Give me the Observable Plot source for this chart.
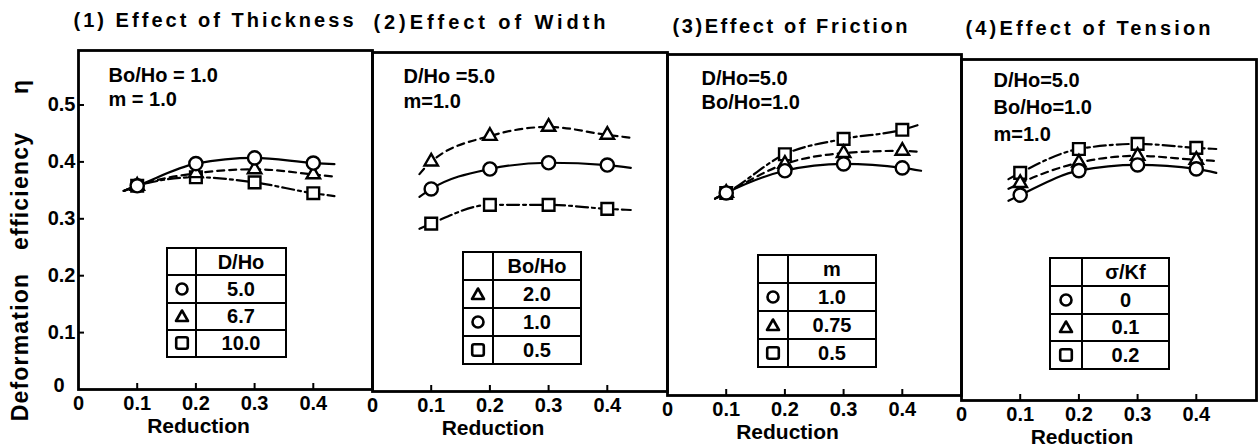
<!DOCTYPE html>
<html><head><meta charset="utf-8">
<script src="https://cdn.jsdelivr.net/npm/d3@7"></script>
<script src="https://cdn.jsdelivr.net/npm/@observablehq/plot@0.6"></script>
<style>
body{margin:0;background:#fff;}
#wrap{position:relative;width:1260px;height:448px;overflow:hidden;font-family:"Liberation Sans",Arial,sans-serif;}
#wrap svg{position:absolute;left:0;top:0;}
.leg{position:absolute;border-collapse:collapse;table-layout:fixed;background:#fff;font-weight:bold;font-size:20px;color:#000;}
.leg td{border:2.8px solid #000;padding:0;text-align:center;vertical-align:middle;line-height:1;}
.leg svg{position:static !important;display:block;margin:auto;}
</style></head><body><div id="wrap"></div>
<script>
// ---- data ----
const reduction = [0.1, 0.2, 0.3, 0.4];
const xTicks = [0, 0.1, 0.2, 0.3, 0.4];
const yTicks = [0.1, 0.2, 0.3, 0.4, 0.5];
const panelTitles = ["(1) Effect of Thickness", "(2)Effect of Width", "(3)Effect of Friction", "(4)Effect of Tension"];
const panelNotes = [["Bo/Ho = 1.0", "m = 1.0"], ["D/Ho =5.0", "m=1.0"], ["D/Ho=5.0", "Bo/Ho=1.0"], ["D/Ho=5.0", "Bo/Ho=1.0", "m=1.0"]];
const legendHeads = ["D/Ho", "Bo/Ho", "m", "σ/Kf"];
const legendSymbols = [["circle", "triangle", "square"], ["triangle", "circle", "square"], ["circle", "triangle", "square"], ["circle", "triangle", "square"]];
const legendValues = [["5.0", "6.7", "10.0"], ["2.0", "1.0", "0.5"], ["1.0", "0.75", "0.5"], ["0", "0.1", "0.2"]];
const xLabel = "Reduction";
const yLabel = "Deformation   efficiency     η";

// (1) thickness
const thickCircle   = [0.358, 0.397, 0.407, 0.398];
const thickTriangle = [0.358, 0.380, 0.387, 0.378];
const thickSquare   = [0.358, 0.373, 0.364, 0.345];
// (2) width
const widthTriangle = [0.404, 0.449, 0.465, 0.451];
const widthCircle   = [0.356, 0.391, 0.402, 0.398];
const widthSquare   = [0.295, 0.328, 0.328, 0.321];
// (3) friction
const frictionCircle   = [0.356, 0.395, 0.407, 0.400];
const frictionTriangle = [0.356, 0.407, 0.426, 0.430];
const frictionSquare   = [0.356, 0.424, 0.451, 0.467];
// (4) tension
const tensionCircle   = [0.361, 0.404, 0.414, 0.407];
const tensionTriangle = [0.382, 0.418, 0.430, 0.423];
const tensionSquare   = [0.400, 0.442, 0.451, 0.444];

// where the fitted curves start and end (reduction) and their values there
const curveStartX = [0.077, 0.080, 0.081, 0.080];
const curveEndX   = [0.436, 0.440, 0.432, 0.434];
const thickCurveEnds    = {circle: [0.349, 0.396], triangle: [0.349, 0.374], square: [0.349, 0.340]};
const widthCurveEnds    = {triangle: [0.382, 0.446], circle: [0.342, 0.393], square: [0.286, 0.319]};
const frictionCurveEnds = {circle: [0.346, 0.395], triangle: [0.346, 0.428], square: [0.346, 0.477]};
const tensionCurveEnds  = {circle: [0.351, 0.400], triangle: [0.372, 0.421], square: [0.389, 0.442]};

// ---- layout (scanned figure is slightly tilted) ----
const W = 1260, H = 448;
const frames = [
  {L: 78, R: 372, T: 50, B: 389},
  {L: 372, R: 667, T: 52, B: 391},
  {L: 667, R: 961, T: 54, B: 395},
  {L: 961, R: 1256, T: 59, B: 400}
];
const titleLayout = [{dx: -5, dy: -30, w: 280}, {dx: 1, dy: -30, w: 232}, {dx: 5, dy: -28, w: 235}, {dx: 4, dy: -31, w: 245}];
const noteLayout = [{dx: 30, dy: 14, lh: 1.22}, {dx: 31, dy: 12, lh: 1.27}, {dx: 34, dy: 13, lh: 1.22}, {dx: 32, dy: 9, lh: 1.33}];
const legendLayout = [
  {left: 166, top: 247, width: 121, height: 111, sym: 29},
  {left: 462, top: 251, width: 120, height: 114, sym: 30},
  {left: 757, top: 254, width: 120, height: 114, sym: 30},
  {left: 1049, top: 257, width: 121, height: 113, sym: 32}
];

const panels = [
  {series: [["circle", thickCircle, thickCurveEnds.circle], ["triangle", thickTriangle, thickCurveEnds.triangle], ["square", thickSquare, thickCurveEnds.square]]},
  {series: [["triangle", widthTriangle, widthCurveEnds.triangle], ["circle", widthCircle, widthCurveEnds.circle], ["square", widthSquare, widthCurveEnds.square]]},
  {series: [["circle", frictionCircle, frictionCurveEnds.circle], ["triangle", frictionTriangle, frictionCurveEnds.triangle], ["square", frictionSquare, frictionCurveEnds.square]]},
  {series: [["circle", tensionCircle, tensionCurveEnds.circle], ["triangle", tensionTriangle, tensionCurveEnds.triangle], ["square", tensionSquare, tensionCurveEnds.square]]}
];
const dashOf = {circle: null, triangle: "7,5", square: "12,4,3,4"};
const rOf = {circle: 6.6, triangle: 5, square: 6.6};
const drawOrder = ["square", "triangle", "circle"];

const wrap = document.getElementById("wrap");
const fmt = d => d === 0 ? "0" : d.toFixed(1);

panels.forEach((p, i) => {
  const f = frames[i];
  const marks = [Plot.frame({stroke: "black", strokeWidth: 2.8})];
  p.series.forEach(([sym, vals, ends]) => {
    const line = [{x: curveStartX[i], y: ends[0]}, ...reduction.map((r, k) => ({x: r, y: vals[k]})), {x: curveEndX[i], y: ends[1]}];
    marks.push(Plot.line(line, {x: "x", y: "y", curve: "monotone-x", stroke: "black", strokeWidth: 2.2, strokeDasharray: dashOf[sym]}));
  });
  drawOrder.forEach(sym => {
    const s = p.series.find(d => d[0] === sym);
    const pts = reduction.map((r, k) => ({x: r, y: s[1][k]}));
    marks.push(Plot.dot(pts, {x: "x", y: "y", symbol: sym, r: rOf[sym], fill: "white", stroke: "black", strokeWidth: 2.4}));
  });
  marks.push(
    Plot.axisX({ticks: xTicks, tickSize: 0, tickPadding: 6, tickFormat: fmt, fontSize: 20, label: null}),
    Plot.tickX(reduction, {x: d => d, insetTop: (f.B - f.T) - 6, stroke: "black", strokeWidth: 2}),
    Plot.text([xLabel], {text: d => d, frameAnchor: "bottom", dx: -27, dy: 37, fontSize: 21, lineAnchor: "middle"}),
    Plot.text([panelNotes[i].join("\n")], {text: d => d, frameAnchor: "top-left", textAnchor: "start", lineAnchor: "top", dx: noteLayout[i].dx, dy: noteLayout[i].dy, lineHeight: noteLayout[i].lh, fontSize: 20}),
    Plot.text([panelTitles[i]], {text: d => d, frameAnchor: "top-left", textAnchor: "start", lineAnchor: "middle", dx: titleLayout[i].dx, dy: titleLayout[i].dy, fontSize: 20})
  );
  if (i === 0) {
    marks.push(
      Plot.axisY({ticks: yTicks, tickSize: 0, tickPadding: 3, tickFormat: fmt, fontSize: 20, label: null}),
      Plot.tickY(yTicks, {y: d => d, insetRight: (f.R - f.L) - 6, stroke: "black", strokeWidth: 2}),
      Plot.axisY({ticks: [0], tickSize: 0, tickPadding: 3, tickFormat: fmt, fontSize: 20, dx: -11, dy: -4, label: null}),
      Plot.text([yLabel], {text: d => d, frameAnchor: "left", textAnchor: "middle", rotate: -90, dx: -58, dy: 30, fontSize: 23})
    );
  }
  const svg = Plot.plot({
    width: W, height: H,
    marginLeft: f.L, marginRight: W - f.R, marginTop: f.T, marginBottom: H - f.B,
    x: {domain: [0, (f.R - f.L) / 587]},
    y: {domain: [0, (f.B - f.T) / 569], axis: i === 0 ? undefined : null},
    style: {background: "transparent", fontFamily: "'Liberation Sans', Arial, sans-serif", fontWeight: "bold", overflow: "visible", whiteSpace: "pre", color: "black"},
    marks
  });
  d3.select(svg).selectAll("text").filter(function () { return this.textContent === panelTitles[i]; })
    .attr("textLength", titleLayout[i].w).attr("lengthAdjust", "spacing");
  d3.select(svg).selectAll("text").filter(function () { return this.textContent === yLabel; })
    .style("letter-spacing", "1.2px");
  wrap.appendChild(svg);
});

// legend tables (as in the original figure)
const symSvg = {
  circle: '<svg width="16" height="16"><circle cx="8" cy="8" r="5.5" fill="white" stroke="black" stroke-width="2.6"/></svg>',
  triangle: '<svg width="16" height="16"><polygon points="8,2.5 14,13 2,13" fill="white" stroke="black" stroke-width="2.6" stroke-linejoin="round"/></svg>',
  square: '<svg width="16" height="16"><rect x="2.2" y="2.2" width="11.6" height="11.6" rx="2" fill="white" stroke="black" stroke-width="2.6"/></svg>'
};
legendLayout.forEach((g, i) => {
  const t = document.createElement("table");
  t.className = "leg";
  Object.assign(t.style, {left: g.left + "px", top: g.top + "px", width: g.width + "px", height: g.height + "px"});
  let html = `<colgroup><col style="width:${g.sym}px"><col></colgroup>`;
  html += `<tr><td></td><td>${legendHeads[i]}</td></tr>`;
  legendSymbols[i].forEach((s, k) => { html += `<tr><td>${symSvg[s]}</td><td>${legendValues[i][k]}</td></tr>`; });
  t.innerHTML = html;
  wrap.appendChild(t);
});
</script></body></html>
